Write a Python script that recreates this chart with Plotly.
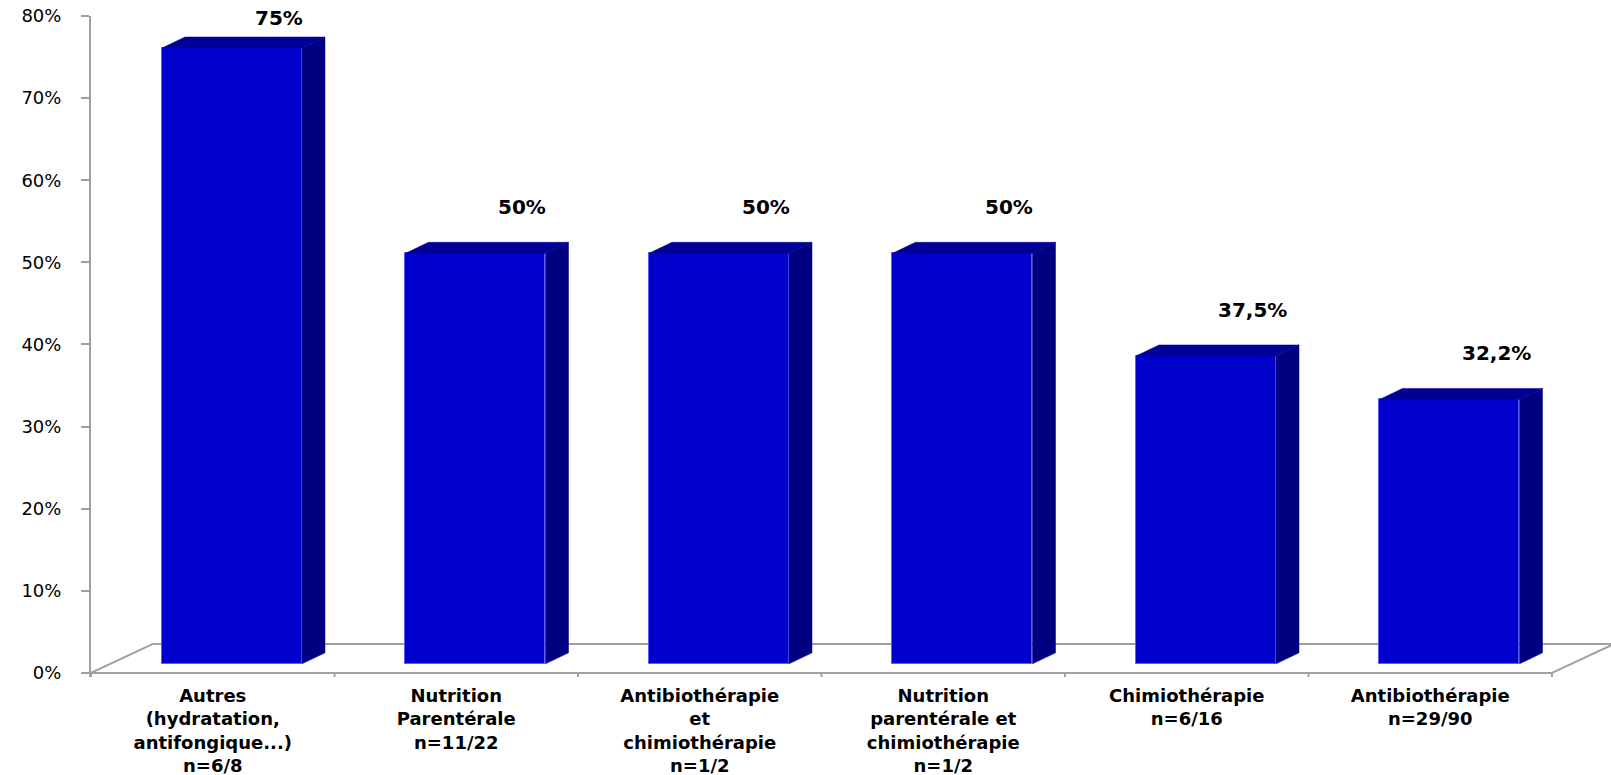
import plotly.graph_objects as go

categories = [
    "Autres<br>(hydratation,<br>antifongique...)<br>n=6/8",
    "Nutrition<br>Parentérale<br>n=11/22",
    "Antibiothérapie<br>et<br>chimiothérapie<br>n=1/2",
    "Nutrition<br>parentérale et<br>chimiothérapie<br>n=1/2",
    "Chimiothérapie<br>n=6/16",
    "Antibiothérapie<br>n=29/90",
]
values = [0.75, 0.50, 0.50, 0.50, 0.375, 0.322]
y_ticks = [0, 0.1, 0.2, 0.3, 0.4, 0.5, 0.6, 0.7, 0.8]

# styling / pseudo-3D geometry (in axis units)
FRONT = "#0000CC"
SIDE = "#000080"
TOP = "#000096"
GRAY = "#a0a0a0"
n = len(categories)
px_per_x = 243.5
plot_w = 1611 - 91
x_max = -0.5 + plot_w / px_per_x
bar_shift = 0.079
bar_w = 0.575
base = 0.011
ddx, ddy = 0.0945, 0.0134        # bar depth
fdx, fdy = 0.2546, 0.0353        # floor depth
label_dx, label_dy, label_cap = 0.27, 0.067, 0.797

def fmt(v):
    p = v * 100
    s = f"{p:.0f}" if abs(p - round(p)) < 1e-9 else f"{p:.1f}".replace(".", ",")
    return s + "%"

fig = go.Figure()
xs = [i + bar_shift for i in range(n)]
fig.add_trace(go.Bar(
    x=xs, y=values, base=[base] * n, width=bar_w,
    marker=dict(color=FRONT, line=dict(color="#5c5cff", width=1)),
    hoverinfo="skip", showlegend=False,
))

for xc, v in zip(xs, values):
    xl, xr = xc - bar_w / 2, xc + bar_w / 2
    top = base + v
    # side face
    fig.add_trace(go.Scatter(
        x=[xr, xr + ddx, xr + ddx, xr, xr],
        y=[base, base + ddy, top + ddy, top, base],
        fill="toself", fillcolor=SIDE, mode="lines",
        line=dict(color=SIDE, width=0.5), hoverinfo="skip", showlegend=False,
    ))
    # top face
    fig.add_trace(go.Scatter(
        x=[xl, xl + ddx, xr + ddx, xr, xl],
        y=[top, top + ddy, top + ddy, top, top],
        fill="toself", fillcolor=TOP, mode="lines",
        line=dict(color=TOP, width=0.5), hoverinfo="skip", showlegend=False,
    ))

shapes = []
line = dict(color=GRAY, width=2)
# floor
shapes.append(dict(type="line", xref="x", yref="y", x0=-0.5, y0=0, x1=n - 0.5, y1=0, line=line, layer="below"))
shapes.append(dict(type="line", xref="x", yref="y", x0=-0.5, y0=0, x1=-0.5 + fdx, y1=fdy, line=line, layer="below"))
shapes.append(dict(type="line", xref="x", yref="y", x0=-0.5 + fdx, y0=fdy, x1=n - 0.5 + fdx, y1=fdy, line=line, layer="below"))
shapes.append(dict(type="line", xref="x", yref="y", x0=n - 0.5, y0=0, x1=n - 0.5 + fdx, y1=fdy, line=line, layer="below"))
# category tick marks
for k in range(n + 1):
    shapes.append(dict(type="line", xref="x", yref="y", x0=k - 0.5, y0=0, x1=k - 0.5, y1=-0.01, line=line, layer="below"))

annotations = []
for i, v in enumerate(values):
    annotations.append(dict(
        x=i + label_dx, y=min(v + label_dy, label_cap), xref="x", yref="y",
        text=fmt(v), showarrow=False,
        font=dict(family="DejaVu Sans", size=20, color="black", weight="bold"),
    ))

fig.update_layout(
    width=1611, height=775,
    margin=dict(l=91, r=0, t=16, b=98),
    paper_bgcolor="white", plot_bgcolor="white",
    shapes=shapes, annotations=annotations,
    bargap=0, showlegend=False,
    xaxis=dict(
        range=[-0.5, x_max], tickvals=list(range(n)), ticktext=categories,
        showgrid=False, zeroline=False, showline=False, ticks="",
        tickfont=dict(family="DejaVu Sans", size=18, color="black", weight="bold"),
        ticklabelstandoff=6, fixedrange=True,
    ),
    yaxis=dict(
        range=[-0.005, 0.8], tickvals=y_ticks, tickformat=".0%",
        showgrid=False, zeroline=False, showline=True, linecolor=GRAY, linewidth=2,
        ticks="outside", ticklen=8, tickcolor=GRAY, tickwidth=2,
        tickfont=dict(family="DejaVu Sans", size=18, color="black"),
        ticklabelstandoff=16, fixedrange=True,
    ),
)

fig.write_html("out.html")
